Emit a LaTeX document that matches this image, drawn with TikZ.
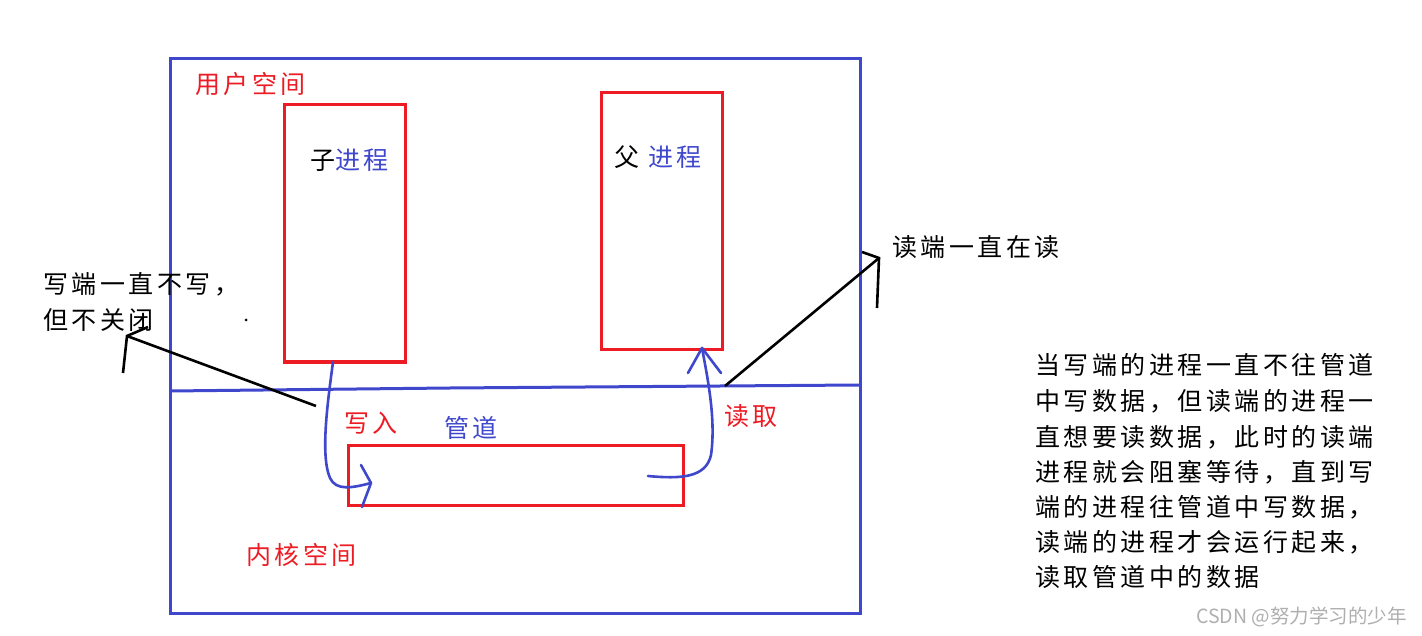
\documentclass[tikz,border=0pt]{standalone}
\usepackage{fontspec}
\newfontfamily\cjk{Noto Sans CJK SC}[LetterSpace=14]
\newfontfamily\wm{Noto Sans CJK SC}
\definecolor{pblue}{RGB}{63,72,204}
\definecolor{pred}{RGB}{237,28,36}
\definecolor{wmgray}{RGB}{175,175,175}
\begin{document}
\begin{tikzpicture}[x=1pt,y=-1pt,
  bluel/.style={draw=pblue,line width=3pt},
  redl/.style={draw=pred,line width=3pt},
  blackl/.style={draw=black,line width=2.6pt},
  txt/.style={anchor=west,inner sep=0pt,font=\cjk\fontsize{25}{25}\selectfont},
  para/.style={txt,text=black}]
\useasboundingbox[fill=white] (0,0) rectangle (1422,636);
% outer space box
\draw[bluel] (170,59) rectangle (860,613);
\coordinate (dl) at (170,391);
\coordinate (dm1) at (450,388);
\coordinate (dm2) at (720,386);
\coordinate (dr) at (860,385);
\draw[bluel] (dl) -- (dm1) -- (dm2) -- (dr);
% process boxes
\node[redl,minimum width=121pt,minimum height=257pt,inner sep=0pt] (child) at (344.5,233.5) {};
\node[redl,minimum width=121pt,minimum height=257pt,inner sep=0pt] (parent) at (661.5,221.5) {};
\node[redl,minimum width=335pt,minimum height=60pt,inner sep=0pt] (pipe) at (515.5,475) {};
% labels
\node[txt,text=pred] (us) at (195,84) {用户空间};
\node[txt,text=pred] (ks) at (246,555) {内核空间};
\node[txt] (cl) at (310,160) {子\textcolor{pblue}{进程}};
\node[txt] (pl) at (614,157) {父 \textcolor{pblue}{进程}};
\node[txt,text=pred] (wr) at (344,423) {写入};
\node[txt,text=pblue] (pg) at (444,428) {管道};
\node[txt,text=pred] (rd) at (724,416) {读取};
\node[txt] (rr) at (892,247) {读端一直在读};
\node[txt] (ww1) at (43,284) {写端一直不写，};
\node[txt] (ww2) at (43,320) {但不关闭};
\node[para] (p1) at (1035,365) {当写端的进程一直不往管道};
\node[para] (p2) at (1035,401) {中写数据，但读端的进程一};
\node[para] (p3) at (1035,437) {直想要读数据，此时的读端};
\node[para] (p4) at (1035,472) {进程就会阻塞等待，直到写};
\node[para] (p5) at (1035,507) {端的进程往管道中写数据，};
\node[para] (p6) at (1035,542) {读端的进程才会运行起来，};
\node[para] (p7) at (1035,577) {读取管道中的数据};
\node[anchor=west,inner sep=0pt,text=wmgray,font=\wm\fontsize{19.5}{19.5}\selectfont] (wmk) at (1196,617) {CSDN @努力学习的少年};
% write curve (blue)
\coordinate (w0) at (333,362);
\coordinate (w1) at (371,483);
\coordinate (wa) at (361,465);
\coordinate (wb) at (362,507);
\draw[bluel,line width=2.6pt,line cap=round,line join=round] (w0) .. controls (328,400) and (320,455) .. (330,478) .. controls (336,491) and (352,488) .. (w1);
\draw[bluel,line width=2.6pt,line cap=round,line join=round] (wa) -- (w1) -- (wb);
% read curve (blue)
\coordinate (r0) at (648,476);
\coordinate (r1) at (702,348);
\coordinate (ra) at (688,373);
\coordinate (rb) at (721,373);
\draw[bluel,line width=2.6pt,line cap=round,line join=round] (r0) .. controls (680,479) and (706,478) .. (711,455) .. controls (716,420) and (708,380) .. (r1);
\draw[bluel,line width=2.6pt,line cap=round,line join=round] (ra) -- (r1) -- (rb);
% black pointer to write-end text
\coordinate (b0) at (316,406);
\coordinate (b1) at (127,336);
\coordinate (bha) at (148,327);
\coordinate (bhb) at (123,373);
\draw[blackl] (b0) -- (b1);
\draw[blackl,line join=miter] (bha) -- (b1) -- (bhb);
% black pointer to read-end text
\coordinate (c0) at (725,386);
\coordinate (c1) at (879,258);
\coordinate (cha) at (862,252);
\coordinate (chb) at (877,308);
\draw[blackl] (c0) -- (c1);
\draw[blackl,line join=miter] (cha) -- (c1) -- (chb);
% stray dot
\fill (246,320) circle (1.5pt);
\end{tikzpicture}
\end{document}
